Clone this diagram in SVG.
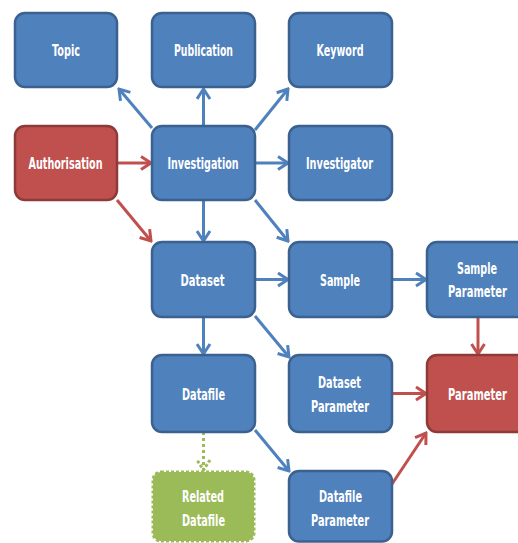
<svg xmlns="http://www.w3.org/2000/svg" width="518" height="543" viewBox="0 0 518 543">
<style>
.b{fill:#4F81BD;stroke:#3B6190;stroke-width:2.5}
.r{fill:#C0504D;stroke:#8E3A38;stroke-width:2.5}
.g{fill:#9BBB59;stroke:#9BBB59;stroke-width:3;stroke-dasharray:3 2}
text{font-family:"Liberation Sans Narrow","DejaVu Sans Condensed","Liberation Sans",sans-serif;font-weight:bold;font-size:16px;fill:#FFFFFF;text-anchor:middle}
.cb{stroke:#4F81BD;stroke-width:3;fill:none}
.cr{stroke:#C0504D;stroke-width:3;fill:none}
.cg{stroke:#9BBB59;stroke-width:3;fill:none;stroke-dasharray:3 3}
</style>
<defs>
<marker id="ab" viewBox="0 0 14 16" refX="12" refY="8" markerWidth="14" markerHeight="16" markerUnits="userSpaceOnUse" orient="auto">
<path d="M2,1.5 L12,8 L2,14.5" fill="none" stroke="#4F81BD" stroke-width="3"/>
</marker>
<marker id="ar" viewBox="0 0 14 16" refX="12" refY="8" markerWidth="14" markerHeight="16" markerUnits="userSpaceOnUse" orient="auto">
<path d="M2,1.5 L12,8 L2,14.5" fill="none" stroke="#C0504D" stroke-width="3"/>
</marker>
<marker id="ag" viewBox="0 0 14 16" refX="12" refY="8" markerWidth="14" markerHeight="16" markerUnits="userSpaceOnUse" orient="auto">
<path d="M2,1.5 L12,8 L2,14.5" fill="none" stroke="#9BBB59" stroke-width="3" stroke-dasharray="3 2"/>
</marker>
</defs>
<g id="connectors">
<line class="cb" x1="152" y1="128" x2="119" y2="89" marker-end="url(#ab)"/>
<line class="cb" x1="203.5" y1="126" x2="203.5" y2="89" marker-end="url(#ab)"/>
<line class="cb" x1="255" y1="130" x2="288" y2="89" marker-end="url(#ab)"/>
<line class="cb" x1="255" y1="163" x2="288" y2="163" marker-end="url(#ab)"/>
<line class="cr" x1="117" y1="163" x2="151" y2="163" marker-end="url(#ar)"/>
<line class="cr" x1="117" y1="200" x2="151" y2="241" marker-end="url(#ar)"/>
<line class="cb" x1="203.5" y1="200" x2="203.5" y2="241" marker-end="url(#ab)"/>
<line class="cb" x1="255" y1="200" x2="288" y2="241" marker-end="url(#ab)"/>
<line class="cb" x1="255" y1="279.5" x2="288" y2="279.5" marker-end="url(#ab)"/>
<line class="cb" x1="392" y1="279.5" x2="426" y2="279.5" marker-end="url(#ab)"/>
<line class="cr" x1="478" y1="317" x2="478" y2="354" marker-end="url(#ar)"/>
<line class="cb" x1="203.5" y1="317" x2="203.5" y2="354" marker-end="url(#ab)"/>
<line class="cb" x1="255" y1="316" x2="289" y2="357" marker-end="url(#ab)"/>
<line class="cr" x1="392" y1="393.5" x2="426" y2="393.5" marker-end="url(#ar)"/>
<line class="cg" x1="203.5" y1="432" x2="203.5" y2="470" marker-end="url(#ag)"/>
<line class="cb" x1="255" y1="430" x2="289" y2="471" marker-end="url(#ab)"/>
<line class="cr" x1="392" y1="484" x2="426" y2="433" marker-end="url(#ar)"/>
</g>
<g id="topic"><rect class="b" x="15" y="13" width="102" height="74" rx="10"/><text x="66" y="56" textLength="28" lengthAdjust="spacingAndGlyphs">Topic</text></g>
<g id="publication"><rect class="b" x="152" y="13" width="103" height="74" rx="10"/><text x="203.5" y="56" textLength="59" lengthAdjust="spacingAndGlyphs">Publication</text></g>
<g id="keyword"><rect class="b" x="289" y="13" width="103" height="74" rx="10"/><text x="340" y="56" textLength="47" lengthAdjust="spacingAndGlyphs">Keyword</text></g>
<g id="authorisation"><rect class="r" x="15" y="126" width="102" height="74" rx="10"/><text x="65.5" y="169" textLength="74" lengthAdjust="spacingAndGlyphs">Authorisation</text></g>
<g id="investigation"><rect class="b" x="152" y="126" width="103" height="74" rx="10"/><text x="203" y="169" textLength="71" lengthAdjust="spacingAndGlyphs">Investigation</text></g>
<g id="investigator"><rect class="b" x="289" y="126" width="103" height="74" rx="10"/><text x="339.5" y="169" textLength="67" lengthAdjust="spacingAndGlyphs">Investigator</text></g>
<g id="dataset"><rect class="b" x="152" y="242" width="103" height="75" rx="10"/><text x="202.5" y="285.5" textLength="44" lengthAdjust="spacingAndGlyphs">Dataset</text></g>
<g id="sample"><rect class="b" x="289" y="242" width="103" height="75" rx="10"/><text x="340" y="285.5" textLength="40" lengthAdjust="spacingAndGlyphs">Sample</text></g>
<g id="sample-parameter"><rect class="b" x="427" y="242" width="103" height="75" rx="10"/><text x="477" y="274" textLength="40" lengthAdjust="spacingAndGlyphs">Sample</text><text transform="translate(477.5,297) scale(0.7,1)" x="0" y="0" textLength="84" lengthAdjust="spacingAndGlyphs">Parameter</text></g>
<g id="datafile"><rect class="b" x="152" y="355" width="103" height="77" rx="10"/><text x="203.5" y="399.5" textLength="43" lengthAdjust="spacingAndGlyphs">Datafile</text></g>
<g id="dataset-parameter"><rect class="b" x="289" y="355" width="103" height="77" rx="10"/><text x="339.5" y="388" textLength="43" lengthAdjust="spacingAndGlyphs">Dataset</text><text x="340" y="412" textLength="58" lengthAdjust="spacingAndGlyphs">Parameter</text></g>
<g id="parameter"><rect class="r" x="427" y="355" width="103" height="77" rx="10"/><text transform="translate(477.5,399.5) scale(0.7,1)" x="0" y="0" textLength="84" lengthAdjust="spacingAndGlyphs">Parameter</text></g>
<g id="related-datafile"><rect class="g" x="153" y="472" width="101" height="69" rx="8"/><text x="203" y="502" textLength="42" lengthAdjust="spacingAndGlyphs">Related</text><text x="203.5" y="526" textLength="43" lengthAdjust="spacingAndGlyphs">Datafile</text></g>
<g id="datafile-parameter"><rect class="b" x="289" y="471" width="103" height="70.5" rx="10"/><text x="340.5" y="502" textLength="43" lengthAdjust="spacingAndGlyphs">Datafile</text><text x="340" y="526" textLength="58" lengthAdjust="spacingAndGlyphs">Parameter</text></g>
</svg>
